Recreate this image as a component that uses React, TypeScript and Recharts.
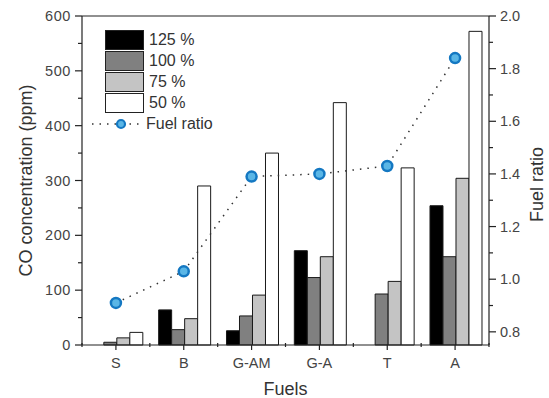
import React from "react";
import {
  ComposedChart,
  Bar,
  Line,
  XAxis,
  YAxis,
  Legend,
  ReferenceLine
} from "recharts";

const categories = ["S", "B", "G-AM", "G-A", "T", "A"];
const co125 = [0, 64, 26, 172, 0, 254];
const co100 = [5, 28, 53, 123, 93, 161];
const co75 = [13, 48, 91, 161, 116, 304];
const co50 = [23, 290, 350, 442, 323, 572];
const fuelRatio = [0.91, 1.03, 1.39, 1.4, 1.43, 1.84];

const leftTicks = [0, 50, 100, 150, 200, 250, 300, 350, 400, 450, 500, 550, 600];
const rightTicks = [0.8, 0.9, 1.0, 1.1, 1.2, 1.3, 1.4, 1.5, 1.6, 1.7, 1.8, 1.9, 2.0];

const seriesNames = ["125 %", "100 %", "75 %", "50 %"];
const seriesColors = ["#000000", "#808080", "#c4c4c4", "#ffffff"];

const data = categories.map((name, i) => ({
  name,
  "125 %": co125[i],
  "100 %": co100[i],
  "75 %": co75[i],
  "50 %": co50[i],
  fuel: fuelRatio[i]
}));

const W = 549;
const H = 398;
const LEFT_W = 82;
const RIGHT_W = 60;
const FONT = "'Liberation Sans', Arial, sans-serif";
const TICK_FS = 14.5;
const TITLE_FS = 18;
const bandWidth = (W - LEFT_W - RIGHT_W) / categories.length;

const LeftTick = ({ x, y, payload }: any) => {
  const major = payload.value % 100 === 0;
  return (
    <g>
      <line x1={x - (major ? 7 : 4)} x2={x} y1={y} y2={y} stroke="#222" strokeWidth={1.2} />
      {major && (
        <text x={x - 11} y={y} textAnchor="end" dominantBaseline="central" fontSize={TICK_FS} letterSpacing={0.6} fill="#444" fontFamily={FONT}>
          {payload.value}
        </text>
      )}
    </g>
  );
};

const RightTick = ({ x, y, payload }: any) => {
  const major = Math.round(payload.value * 10) % 2 === 0;
  return (
    <g>
      <line x1={x} x2={x + (major ? 7 : 4)} y1={y} y2={y} stroke="#222" strokeWidth={1.2} />
      {major && (
        <text x={x + 11} y={y} textAnchor="start" dominantBaseline="central" fontSize={TICK_FS} fill="#444" fontFamily={FONT}>
          {payload.value.toFixed(1)}
        </text>
      )}
    </g>
  );
};

const BottomTick = ({ x, y, payload, index }: any) => (
  <g>
    <line x1={x} x2={x} y1={y} y2={y + 5} stroke="#222" strokeWidth={1.2} />
    <line x1={x - bandWidth / 2} x2={x - bandWidth / 2} y1={y - 2} y2={y + 2} stroke="#222" strokeWidth={1.2} />
    {index === categories.length - 1 && (
      <line x1={x + bandWidth / 2} x2={x + bandWidth / 2} y1={y - 2} y2={y + 2} stroke="#222" strokeWidth={1.2} />
    )}
    <text x={x} y={y + 18} textAnchor="middle" dominantBaseline="central" fontSize={TICK_FS} fill="#444" fontFamily={FONT}>
      {payload.value}
    </text>
  </g>
);

const FuelDot = ({ cx, cy }: any) => (
  <circle cx={cx} cy={cy} r={5} fill="#5ab6e6" stroke="#1478c2" strokeWidth={2.5} />
);

const LegendBox = () => (
  <div style={{ fontFamily: FONT, fontSize: 16, color: "#333" }}>
    {seriesNames.map((n, i) => (
      <div key={n} style={{ display: "flex", alignItems: "center", height: 21, paddingLeft: 15 }}>
        <div
          style={{
            width: 37,
            height: 18,
            background: seriesColors[i],
            border: "1.5px solid #222",
            marginRight: 5
          }}
        />
        <span>{n}</span>
      </div>
    ))}
    <div style={{ display: "flex", alignItems: "center", height: 22 }}>
      <svg width={56} height={14}>
        <line x1={2} x2={52} y1={7} y2={7} stroke="#333" strokeWidth={1.5} strokeDasharray="1.5 6" />
        <circle cx={31} cy={7} r={4} fill="#5ab6e6" stroke="#1478c2" strokeWidth={2.2} />
      </svg>
      <span>Fuel ratio</span>
    </div>
  </div>
);

export default function App() {
  return (
    <div style={{ position: "absolute", left: 0, top: 0, width: W, height: H, background: "#fff" }}>
      <ComposedChart
        width={W}
        height={H}
        data={data}
        margin={{ top: 16, right: 0, left: 0, bottom: 0 }}
        barCategoryGap="13%"
        barGap={0}
      >
        <XAxis
          dataKey="name"
          height={53}
          axisLine={{ stroke: "#222", strokeWidth: 1.2 }}
          tickLine={false}
          tickSize={0}
          tickMargin={0}
          tick={<BottomTick />}
          interval={0}
          label={{
            content: ({ viewBox }: any) => (
              <text x={viewBox.x + viewBox.width / 2} y={viewBox.y + 44} textAnchor="middle" dominantBaseline="central" fontSize={TITLE_FS} fill="#333" fontFamily={FONT}>
                Fuels
              </text>
            )
          }}
        />
        <YAxis
          yAxisId="left"
          width={LEFT_W}
          domain={[0, 600]}
          ticks={leftTicks}
          interval={0}
          axisLine={{ stroke: "#222", strokeWidth: 1.2 }}
          tickLine={false}
          tickSize={0}
          tickMargin={0}
          tick={<LeftTick />}
          label={{
            content: ({ viewBox }: any) => {
              const cx = viewBox.x + 26;
              const cy = viewBox.y + viewBox.height / 2;
              return (
                <text x={cx} y={cy} transform={`rotate(-90 ${cx} ${cy})`} textAnchor="middle" dominantBaseline="central" fontSize={TITLE_FS} fill="#333" fontFamily={FONT}>
                  CO concentration (ppm)
                </text>
              );
            }
          }}
        />
        <YAxis
          yAxisId="right"
          orientation="right"
          width={RIGHT_W}
          domain={[0.75, 2.0]}
          ticks={rightTicks}
          interval={0}
          allowDataOverflow
          axisLine={{ stroke: "#222", strokeWidth: 1.2 }}
          tickLine={false}
          tickSize={0}
          tickMargin={0}
          tick={<RightTick />}
          label={{
            content: ({ viewBox }: any) => {
              const cx = viewBox.x + 48;
              const cy = viewBox.y + viewBox.height / 2 + 4;
              return (
                <text x={cx} y={cy} transform={`rotate(-90 ${cx} ${cy})`} textAnchor="middle" dominantBaseline="central" fontSize={TITLE_FS} fill="#333" fontFamily={FONT}>
                  Fuel ratio
                </text>
              );
            }
          }}
        />
        <ReferenceLine yAxisId="left" y={600} stroke="#222" strokeWidth={1.2} />
        <Legend
          layout="horizontal"
          verticalAlign="middle"
          align="center"
          content={<LegendBox />}
          wrapperStyle={{ left: 90, top: 29, width: "auto" }}
        />
        {seriesNames.map((n, i) => (
          <Bar
            key={n}
            yAxisId="left"
            dataKey={n}
            fill={seriesColors[i]}
            stroke="#1a1a1a"
            strokeWidth={1}
            isAnimationActive={false}
          />
        ))}
        <Line
          yAxisId="right"
          dataKey="fuel"
          stroke="#333"
          strokeWidth={1.5}
          strokeDasharray="1.5 6"
          dot={<FuelDot />}
          activeDot={false}
          isAnimationActive={false}
        />
      </ComposedChart>
    </div>
  );
}
